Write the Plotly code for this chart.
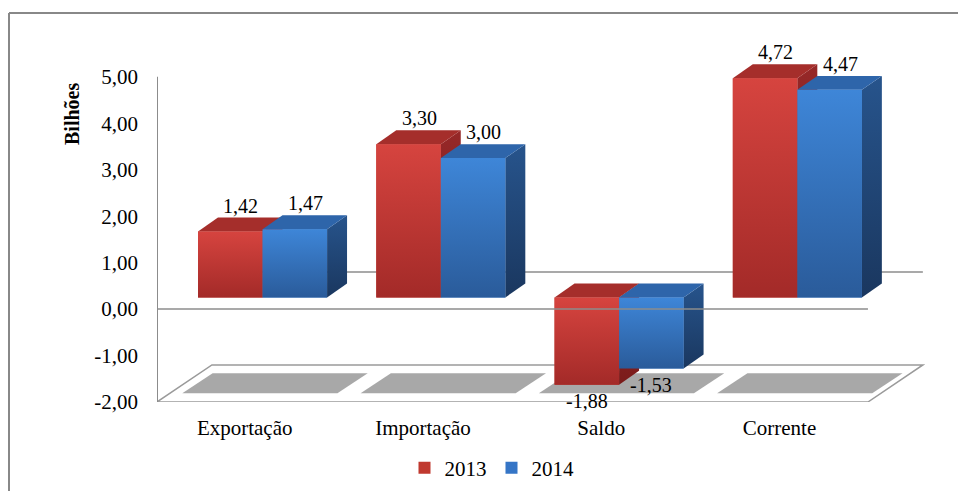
import plotly.graph_objects as go

# ---------------- data ----------------
categories = ["Exportação", "Importação", "Saldo", "Corrente"]
years = ["2013", "2014"]
values_2013 = [1.42, 3.30, -1.88, 4.72]
values_2014 = [1.47, 3.00, -1.53, 4.47]
y_tick_values = [-2, -1, 0, 1, 2, 3, 4, 5]
y_tick_labels = ["-2,00", "-1,00", "0,00", "1,00", "2,00", "3,00", "4,00", "5,00"]

# ---------------- geometry (pseudo 3D) ----------------
X_MIN, X_MAX = -0.592, 3.716
Y_MIN, Y_AXIS_TOP, Y_VIEW_TOP = -2, 5, 5.9
BAR_W = 0.362
BAR_BASE = 0.25          # bars sit slightly behind the front plane
DX, DY = 0.112, 0.30     # bar depth
FLOOR_DX, FLOOR_DY = 0.308, 0.797
FLOOR_RIGHT = 3.396
LABEL_SHIFT = -0.10
FONT = "Liberation Serif, Times New Roman, serif"

W, H = 958, 491
M_L, M_R, M_B = 157, 33, 89
PX_PER_Y = (H - M_B - 77) / (Y_AXIS_TOP - Y_MIN)
M_T = round(77 - (Y_VIEW_TOP - Y_AXIS_TOP) * PX_PER_Y)
PLOT_W = W - M_L - M_R
PLOT_H = H - M_T - M_B


def px_to_paper_x(px):
    return (px - M_L) / PLOT_W


def px_to_paper_y(py):
    return (H - M_B - py) / PLOT_H


styles = {
    "2013": dict(front=("#a32a28", "#d6443f"), top="#a52e2b", side=("#7a1b1a", "#962828"),
                 legend="#c0392f", offset=-BAR_W),
    "2014": dict(front=("#2a5b9a", "#3e86d8"), top="#2e65aa", side=("#1a375f", "#27548c"),
                 legend="#3575c6", offset=0.0),
}
series = {"2013": values_2013, "2014": values_2014}

fig = go.Figure()

# legend-bearing bars (covered by the 3D faces drawn afterwards)
for yr in years:
    st = styles[yr]
    fig.add_trace(go.Bar(
        x=list(range(len(categories))), y=series[yr], base=BAR_BASE,
        width=BAR_W, offset=st["offset"], name=yr,
        marker=dict(color=st["legend"], line=dict(width=0)), hoverinfo="skip"))


def poly(xs, ys, **kw):
    return go.Scatter(x=xs + [xs[0]], y=ys + [ys[0]], mode="lines", fill="toself",
                      line=dict(width=0), showlegend=False, hoverinfo="skip", **kw)


annotations = []
for yr in years:
    st = styles[yr]
    for i, v in enumerate(series[yr]):
        x0 = i + st["offset"]
        x1 = x0 + BAR_W
        hi = BAR_BASE + max(v, 0)
        lo = BAR_BASE + min(v, 0)
        # side face
        fig.add_trace(poly([x1, x1 + DX, x1 + DX, x1], [lo, lo + DY, hi + DY, hi],
                           fillgradient=dict(type="vertical", start=lo, stop=hi + DY,
                                             colorscale=[[0, st["side"][0]], [1, st["side"][1]]])))
        # top face
        fig.add_trace(poly([x0, x1, x1 + DX, x0 + DX], [hi, hi, hi + DY, hi + DY],
                           fillcolor=st["top"]))
        # front face
        fig.add_trace(poly([x0, x1, x1, x0], [lo, lo, hi, hi],
                           fillgradient=dict(type="vertical", start=lo, stop=hi,
                                             colorscale=[[0, st["front"][0]], [1, st["front"][1]]])))
        label = f"{v:.2f}".replace(".", ",")
        if v >= 0:
            annotations.append(dict(x=(x0 + x1) / 2 + 0.06, y=hi + DY, text=label, showarrow=False,
                                    yshift=12, xref="x", yref="y",
                                    font=dict(family=FONT, size=20, color="#000")))
        else:
            annotations.append(dict(x=(x0 + x1) / 2, y=lo, text=label, showarrow=False,
                                    yshift=-16, xref="x", yref="y",
                                    font=dict(family=FONT, size=20, color="#000")))

# ---------------- floor, walls, shadows ----------------
shapes = []
floor_pts = [(X_MIN, Y_MIN), (FLOOR_RIGHT, Y_MIN), (FLOOR_RIGHT + FLOOR_DX, Y_MIN + FLOOR_DY),
             (X_MIN + FLOOR_DX, Y_MIN + FLOOR_DY)]
path = "M " + " L ".join(f"{x},{y}" for x, y in floor_pts) + " Z"
shapes.append(dict(type="path", path=path, xref="x", yref="y", layer="below",
                   fillcolor="white", line=dict(color="#9a9a9a", width=1.5)))
# back-wall zero line
shapes.append(dict(type="line", x0=X_MIN + FLOOR_DX, x1=FLOOR_RIGHT + FLOOR_DX,
                   y0=FLOOR_DY, y1=FLOOR_DY, xref="x", yref="y", layer="below",
                   line=dict(color="#8c8c8c", width=1.5)))
# shadows on the floor
for i in range(len(categories)):
    sb, stp = -1.81, -1.38
    pts = [(i - 0.45, sb), (i + 0.42, sb), (i + 0.59, stp), (i - 0.28, stp)]
    p = "M " + " L ".join(f"{x},{y}" for x, y in pts) + " Z"
    shapes.append(dict(type="path", path=p, xref="x", yref="y", layer="below",
                       fillcolor="#a8a8a8", line=dict(width=0)))
# front zero line (drawn over the bars)
shapes.append(dict(type="line", x0=X_MIN, x1=FLOOR_RIGHT, y0=0, y1=0, xref="x", yref="y",
                   layer="above", line=dict(color="#8c8c8c", width=1.5)))
# value axis line (from -2 to 5 only)
shapes.append(dict(type="line", x0=X_MIN, x1=X_MIN, y0=Y_MIN, y1=Y_AXIS_TOP, xref="x", yref="y",
                   layer="above", line=dict(color="#8c8c8c", width=2)))
# chart border (top and left)
shapes.append(dict(type="line", xref="paper", yref="paper", x0=px_to_paper_x(9), x1=px_to_paper_x(960),
                   y0=px_to_paper_y(13), y1=px_to_paper_y(13), line=dict(color="#888888", width=2)))
shapes.append(dict(type="line", xref="paper", yref="paper", x0=px_to_paper_x(9), x1=px_to_paper_x(9),
                   y0=px_to_paper_y(13), y1=px_to_paper_y(495), line=dict(color="#888888", width=2)))

annotations.append(dict(text="<b>Bilhões</b>", textangle=-90, x=px_to_paper_x(72),
                        y=px_to_paper_y(114), xref="paper", yref="paper", showarrow=False,
                        xanchor="center", yanchor="middle",
                        font=dict(family=FONT, size=20, color="#000")))

fig.update_layout(
    width=W, height=H,
    margin=dict(l=M_L, r=M_R, t=M_T, b=M_B, autoexpand=False),
    paper_bgcolor="white", plot_bgcolor="white",
    barmode="overlay",
    shapes=shapes, annotations=annotations,
    font=dict(family=FONT, size=21, color="#000"),
    showlegend=True,
    legend=dict(orientation="h", x=px_to_paper_x(492), xanchor="center",
                y=px_to_paper_y(468), yanchor="middle",
                font=dict(family=FONT, size=21, color="#000"), itemwidth=30,
                bgcolor="rgba(0,0,0,0)"),
    xaxis=dict(range=[X_MIN, X_MAX], showgrid=False, zeroline=False, showline=False,
               automargin=False,
               tickvals=[i + LABEL_SHIFT for i in range(len(categories))], ticktext=categories,
               ticks="", ticklabelstandoff=11, tickfont=dict(family=FONT, size=21, color="#000"),
               fixedrange=True),
    yaxis=dict(range=[Y_MIN, Y_VIEW_TOP], showgrid=False, zeroline=False, showline=False,
               automargin=False, tickvals=y_tick_values, ticktext=y_tick_labels,
               ticks="", ticklabelstandoff=18, tickfont=dict(family=FONT, size=21, color="#000"),
               fixedrange=True),
)

fig.write_html("out.html")
